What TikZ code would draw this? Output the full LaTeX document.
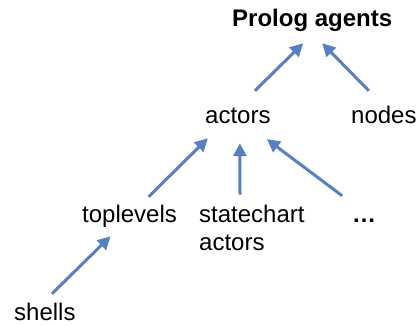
\documentclass[tikz,border=0pt]{standalone}
\usepackage{fontspec}
\setmainfont{Liberation Sans}
\usetikzlibrary{arrows.meta,calc}
\definecolor{arrowblue}{RGB}{86,128,192}
\begin{document}
\begin{tikzpicture}[x=1pt,y=-1pt,
  label/.style={inner sep=0pt,anchor=base west,font=\fontsize{24}{28}\selectfont,
    text height=17pt,text depth=5pt},
  arr/.style={draw=arrowblue,line width=3pt,
    -{Triangle[length=13pt,width=13pt]}}]
  \useasboundingbox (0,0) rectangle (417,325);
  % labels
  \node[label,font=\fontsize{24}{28}\selectfont\bfseries] (prolog) at (232,26) {Prolog agents};
  \node[label] (actors) at (205,123) {actors};
  \node[label] (nodes) at (351,123) {nodes};
  \node[label] (top) at (82,222) {toplevels};
  \node[inner sep=0pt,anchor=north west,align=left,font=\fontsize{24}{28}\selectfont]
    (sc) at (199,204.5) {statechart\\actors};
  \node[label,font=\fontsize{24}{28}\selectfont\bfseries] (dots) at (352,222) {…};
  \node[label] (shells) at (14,320) {shells};
  % arrows
  \draw[arr] ($(actors.north)+(17,-15)$) -- ($(prolog.south)+(-9,12)$);
  \draw[arr] ($(nodes.north)+(-15,-15)$) -- ($(prolog.south)+(10,12)$);
  \draw[arr] ($(top.north)+(19,-8)$) -- ($(actors.south)+(-30,10)$);
  \draw[arr] ($(sc.north west)+(41,-10)$) -- ($(actors.south)+(2,15)$);
  \draw[arr] ($(dots.north)+(-22,-9)$) -- ($(actors.south)+(29,11)$);
  \draw[arr] ($(shells.north)+(7,-9)$) -- ($(top.south)+(-19,9)$);
\end{tikzpicture}
\end{document}
